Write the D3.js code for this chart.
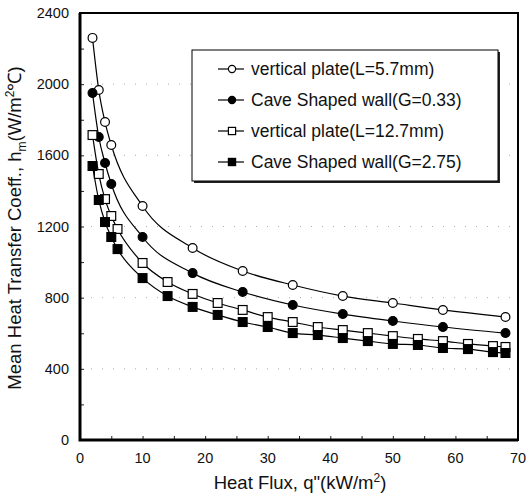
<!DOCTYPE html>
<html>
<head>
<meta charset="utf-8">
<script src="https://cdn.jsdelivr.net/npm/d3@7"></script>
<style>
  body { margin: 0; background: #fff; }
  svg text { font-family: "Liberation Sans", Arial, sans-serif; fill: #111; }
</style>
</head>
<body>
<div id="chart"></div>
<script>
// data
var xCircle = [2, 3, 4, 5, 10, 18, 26, 34, 42, 50, 58, 68];
var plate57 = [2260, 1967, 1787, 1658, 1315, 1079, 950, 871, 809, 770, 731, 691];
var cave033 = [1950, 1703, 1557, 1439, 1141, 938, 832, 759, 708, 669, 635, 601];

var xSquare = [2, 3, 4, 5, 6, 10, 14, 18, 22, 26, 30, 34, 38, 42, 46, 50, 54, 58, 62, 66, 68];
var plate127 = [1714, 1495, 1354, 1259, 1186, 995, 888, 821, 770, 731, 691, 663, 635, 618, 601, 584, 568, 556, 540, 528, 523];
var cave275 = [1540, 1349, 1225, 1141, 1073, 910, 809, 748, 703, 663, 635, 601, 590, 573, 556, 540, 534, 517, 511, 494, 489];

var seriesNames = ["vertical plate(L=5.7mm)", "Cave Shaped wall(G=0.33)", "vertical plate(L=12.7mm)", "Cave Shaped wall(G=2.75)"];
var xTicks = [0, 10, 20, 30, 40, 50, 60, 70];
var yTicks = [0, 400, 800, 1200, 1600, 2000, 2400];

var series = [
  {name: seriesNames[0], xs: xCircle, ys: plate57, shape: "circle", fill: "#fff"},
  {name: seriesNames[1], xs: xCircle, ys: cave033, shape: "circle", fill: "#000"},
  {name: seriesNames[2], xs: xSquare, ys: plate127, shape: "square", fill: "#fff"},
  {name: seriesNames[3], xs: xSquare, ys: cave275, shape: "square", fill: "#000"}
];

var width = 529, height = 495;
var plotL = 80, plotR = 518, plotT = 13, plotB = 440;

var svg = d3.select("#chart").append("svg")
    .attr("width", width)
    .attr("height", height);

var x = d3.scaleLinear().domain([0, 70]).range([plotL, plotR]);
var y = d3.scaleLinear().domain([0, 2400]).range([plotB, plotT]);

// faint dotted grid, as in the scan
svg.selectAll("line.grid").data(yTicks.slice(1, -1)).enter().append("line")
    .attr("class", "grid")
    .attr("x1", plotL).attr("x2", plotR)
    .attr("y1", function(d){ return y(d); })
    .attr("y2", function(d){ return y(d); })
    .attr("stroke", "#aaa")
    .attr("stroke-width", 1)
    .attr("stroke-dasharray", "1,10");

// axes with ticks pointing inward
var xAxis = svg.append("g")
    .attr("transform", "translate(0," + plotB + ")")
    .call(d3.axisBottom(x).tickValues(d3.range(0, 71, 5)).tickSize(-4).tickFormat(""));
var yAxis = svg.append("g")
    .attr("transform", "translate(" + plotL + ",0)")
    .call(d3.axisLeft(y).tickValues(d3.range(0, 2401, 200)).tickSize(-4).tickFormat(""));
[xAxis, yAxis].forEach(function(g){
    g.select(".domain").remove();
    g.selectAll(".tick line").attr("stroke", "#222").attr("stroke-width", 1);
});

svg.selectAll("text.xt").data(xTicks).enter().append("text")
    .attr("class", "xt")
    .attr("x", function(d){ return x(d); })
    .attr("y", 463)
    .attr("text-anchor", "middle")
    .attr("font-size", 14.5)
    .text(function(d){ return d; });

svg.selectAll("text.yt").data(yTicks).enter().append("text")
    .attr("class", "yt")
    .attr("x", 69)
    .attr("y", function(d){ return y(d) + 5; })
    .attr("text-anchor", "end")
    .attr("font-size", 14.5)
    .text(function(d){ return d; });

// frame: heavy left/bottom, lighter top/right
svg.append("rect")
    .attr("x", plotL).attr("y", plotT)
    .attr("width", plotR - plotL).attr("height", plotB - plotT)
    .attr("fill", "none")
    .attr("stroke", "#000")
    .attr("stroke-width", 2);
svg.append("path")
    .attr("d", "M" + plotL + "," + plotT + "V" + plotB + "H" + plotR)
    .attr("fill", "none")
    .attr("stroke", "#000")
    .attr("stroke-width", 3);

// axis titles
svg.append("text")
    .attr("x", 300).attr("y", 489)
    .attr("text-anchor", "middle")
    .attr("font-size", 18.5)
    .html('Heat Flux, q"(kW/m<tspan dy="-7" font-size="12">2</tspan><tspan dy="7">)</tspan>');

svg.append("text")
    .attr("transform", "translate(21,228) rotate(-90)")
    .attr("text-anchor", "middle")
    .attr("font-size", 18.5)
    .html('Mean Heat Transfer Coeff., h<tspan dy="5" font-size="12">m</tspan><tspan dy="-5">(W/m</tspan><tspan dy="-7" font-size="12">2</tspan><tspan dy="7">\u2103)</tspan>');

// curves
var line = d3.line()
    .x(function(d){ return x(d[0]); })
    .y(function(d){ return y(d[1]); })
    .curve(d3.curveMonotoneX);

function drawMarker(g, shape, fill, cx, cy, r) {
    if (shape === "circle") {
        g.append("circle").attr("cx", cx).attr("cy", cy).attr("r", r)
            .attr("fill", fill).attr("stroke", "#000").attr("stroke-width", 1.2);
    } else {
        g.append("rect").attr("x", cx - r).attr("y", cy - r)
            .attr("width", 2 * r).attr("height", 2 * r)
            .attr("fill", fill).attr("stroke", "#000").attr("stroke-width", 1.2);
    }
}

series.forEach(function(s){
    var pts = s.xs.map(function(v, i){ return [v, s.ys[i]]; });
    svg.append("path")
        .datum(pts)
        .attr("d", line)
        .attr("fill", "none")
        .attr("stroke", "#000")
        .attr("stroke-width", 1.2);
    var g = svg.append("g");
    pts.forEach(function(p){ drawMarker(g, s.shape, s.fill, x(p[0]), y(p[1]), 4.4); });
});

// legend
var lg = svg.append("g");
lg.append("rect")
    .attr("x", 194).attr("y", 52).attr("width", 306).attr("height", 131)
    .attr("fill", "#222");
lg.append("rect")
    .attr("x", 192).attr("y", 50).attr("width", 306).attr("height", 131)
    .attr("fill", "#fff").attr("stroke", "#000").attr("stroke-width", 1);

series.forEach(function(s, i){
    var cy = 69 + i * 31;
    lg.append("line")
        .attr("x1", 218).attr("x2", 244)
        .attr("y1", cy).attr("y2", cy)
        .attr("stroke", "#000").attr("stroke-width", 1.2);
    drawMarker(lg, s.shape, s.fill, 232, cy, 3.6);
    lg.append("text")
        .attr("x", 251).attr("y", cy + 6)
        .attr("font-size", 17.5)
        .text(s.name);
});
</script>
</body>
</html>
